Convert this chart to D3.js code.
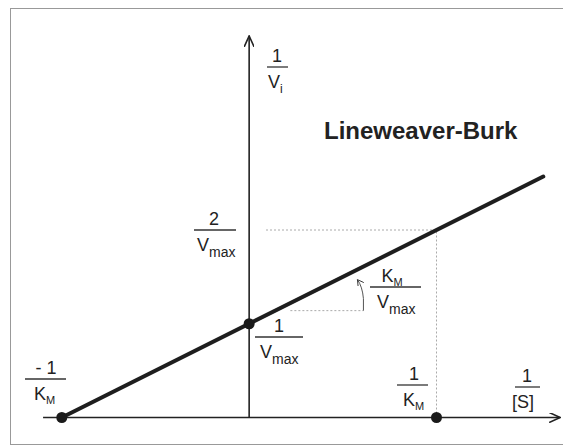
<!DOCTYPE html>
<meta charset="utf-8">
<style>
  body { margin: 0; background: #fff; }
  text { font-family: "Liberation Sans", Arial, sans-serif; fill: #222; }
  .frame { fill: none; stroke: #999; stroke-width: 1px; }
  .axis { stroke: #222; stroke-width: 1.6px; fill: none; }
  .lb { stroke: #1e1e1e; stroke-width: 4px; fill: none; stroke-linecap: round; }
  .guide { stroke: #aaa; stroke-width: 1px; stroke-dasharray: 2,2; fill: none; }
  .bar { stroke: #333; stroke-width: 1.3px; }
</style>
<body>
<script src="https://cdn.jsdelivr.net/npm/d3@7"></script>
<script>

// Data in units of 1/KM (x) and 1/Vmax (y)
var pointsX = [-1, 0, 1];
var pointsY = [0, 1, 0];
var lineX = [-1, 1.57];
var lineY = [0, 2.57];
var guideX = [0.09, 1, 1];
var guideY = [2, 2, 0];
var slopeX = [0.22, 0.61];
var slopeY = [1.14, 1.14];
var xAxisRange = [-1.1, 1.66];
var yAxisRange = [0, 4.07];

var width = 563, height = 448;

var x = d3.scaleLinear().domain([-1, 1]).range([61.8, 436.5]);
var y = d3.scaleLinear().domain([0, 2]).range([417.5, 230]);

var svg = d3.select("body").append("svg")
  .attr("width", width)
  .attr("height", height);

var defs = svg.append("defs");
defs.append("marker")
  .attr("id", "arr")
  .attr("viewBox", "0 0 12 10")
  .attr("refX", 11).attr("refY", 5)
  .attr("markerWidth", 12).attr("markerHeight", 10)
  .attr("markerUnits", "userSpaceOnUse")
  .attr("orient", "auto")
  .append("path")
  .attr("d", "M0,0 L11,5 L0,10")
  .attr("fill", "none").attr("stroke", "#222").attr("stroke-width", 1.6);

defs.append("marker")
  .attr("id", "arrSmall")
  .attr("viewBox", "0 0 8 8")
  .attr("refX", 7).attr("refY", 4)
  .attr("markerWidth", 7).attr("markerHeight", 7)
  .attr("markerUnits", "userSpaceOnUse")
  .attr("orient", "auto")
  .append("path")
  .attr("d", "M0,0 L7,4 L0,8")
  .attr("fill", "none").attr("stroke", "#333").attr("stroke-width", 1);

// frame
svg.append("rect").attr("class", "frame")
  .attr("x", 10.5).attr("y", 8.5).attr("width", 560).attr("height", 436);

// guides
var line = d3.line().x(function(d) { return x(d[0]); }).y(function(d) { return y(d[1]); });

svg.append("path").attr("class", "guide")
  .attr("d", line(d3.zip(guideX, guideY)));
svg.append("path").attr("class", "guide")
  .attr("d", line(d3.zip(slopeX, slopeY)));

// slope arc
var ax = x(slopeX[1]), ay = y(slopeY[1]);
svg.append("path")
  .attr("d", "M" + ax + "," + ay + " L" + ax + "," + (ay - 12) + " Q" + (ax - 1) + "," + (ay - 24) + " " + (ax - 6) + "," + (ay - 31))
  .attr("fill", "none").attr("stroke", "#555").attr("stroke-width", 1)
  .attr("marker-end", "url(#arrSmall)");

// axes
svg.append("line").attr("class", "axis")
  .attr("x1", x(xAxisRange[0])).attr("x2", x(xAxisRange[1]))
  .attr("y1", y(0)).attr("y2", y(0))
  .attr("marker-end", "url(#arr)");
svg.append("line").attr("class", "axis")
  .attr("x1", x(0)).attr("x2", x(0))
  .attr("y1", y(yAxisRange[0])).attr("y2", y(yAxisRange[1]))
  .attr("marker-end", "url(#arr)");

// Lineweaver-Burk line
svg.append("path").attr("class", "lb")
  .attr("d", line(d3.zip(lineX, lineY)));

svg.selectAll(".dot")
  .data(d3.zip(pointsX, pointsY))
  .enter().append("circle")
  .attr("class", "dot")
  .attr("cx", function(d) { return x(d[0]); })
  .attr("cy", function(d) { return y(d[1]); })
  .attr("r", 5.5)
  .attr("fill", "#1a1a1a");

// fraction labels
function frac(o) {
  var g = svg.append("g");
  g.append("text")
    .attr("x", o.nx).attr("y", o.bar - 5)
    .attr("text-anchor", "middle")
    .style("font-size", "18px")
    .call(function(t) {
      t.append("tspan").text(o.num);
      if (o.numSub) t.append("tspan").attr("dy", 4).style("font-size", "11px").text(o.numSub);
    });
  g.append("line").attr("class", "bar")
    .attr("x1", o.b0).attr("x2", o.b1)
    .attr("y1", o.bar).attr("y2", o.bar);
  var t = g.append("text")
    .attr("x", o.dx).attr("y", o.bar + 21)
    .style("font-size", "18px");
  t.append("tspan").text(o.den);
  if (o.denSub) t.append("tspan").attr("dy", o.subDy || 6).style("font-size", o.subSize || "14px").text(o.denSub);
}

frac({nx: 277, num: "1", b0: 267, b1: 288, bar: 67, dx: 268, den: "V", denSub: "i", subDy: 5, subSize: "12px"});
frac({nx: 214, num: "2", b0: 194, b1: 236, bar: 230, dx: 197, den: "V", denSub: "max"});
frac({nx: 279, num: "1", b0: 255, b1: 303, bar: 337, dx: 260, den: "V", denSub: "max"});
frac({nx: 392, num: "K", numSub: "M", b0: 370, b1: 421, bar: 287, dx: 377, den: "V", denSub: "max"});
frac({nx: 46, num: "- 1", b0: 25, b1: 66, bar: 379, dx: 34, den: "K", denSub: "M", subDy: 4, subSize: "11px"});
frac({nx: 414, num: "1", b0: 397, b1: 428, bar: 385, dx: 403, den: "K", denSub: "M", subDy: 4, subSize: "11px"});
frac({nx: 527, num: "1", b0: 515, b1: 540, bar: 387, dx: 512, den: "[S]"});

svg.append("text")
  .attr("x", 324).attr("y", 139)
  .style("font-size", "24px")
  .style("font-weight", "bold")
  .text("Lineweaver-Burk");

</script>
</body>
